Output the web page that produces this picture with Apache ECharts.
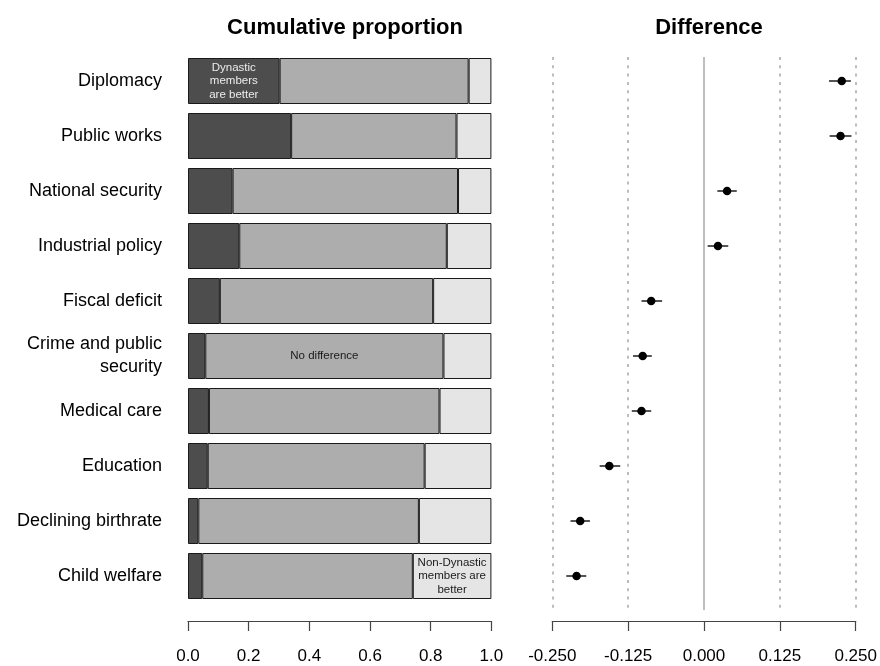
<!DOCTYPE html>
<html>
<head>
<meta charset="utf-8">
<script src="https://cdn.jsdelivr.net/npm/echarts@6/dist/echarts.min.js"></script>
<style>
  html, body { margin: 0; padding: 0; background: #fff; }
  #chart { width: 880px; height: 666px; }
</style>
</head>
<body>
<div id="chart"></div>
<script>
// Policy areas, top to bottom
const categories = [
  'Diplomacy', 'Public works', 'National security', 'Industrial policy',
  'Fiscal deficit', 'Crime and public security', 'Medical care',
  'Education', 'Declining birthrate', 'Child welfare'
];

// Shares of respondents per answer (each row sums to 1)
const dynasticBetter    = [0.302, 0.340, 0.147, 0.169, 0.105, 0.057, 0.069, 0.065, 0.034, 0.047];
const noDifference      = [0.623, 0.545, 0.743, 0.684, 0.703, 0.785, 0.760, 0.715, 0.727, 0.694];
const nonDynasticBetter = [0.075, 0.115, 0.110, 0.147, 0.192, 0.158, 0.171, 0.220, 0.239, 0.259];

// Estimated difference with confidence interval
const difference = [0.227, 0.225, 0.038, 0.023, -0.087, -0.101, -0.103, -0.156, -0.204, -0.210];
const ciLower    = [0.206, 0.207, 0.022, 0.006, -0.103, -0.117, -0.119, -0.172, -0.220, -0.227];
const ciUpper    = [0.242, 0.243, 0.054, 0.040, -0.069, -0.086, -0.087, -0.138, -0.188, -0.194];

// Axis ticks
const proportionTicks = [0, 0.2, 0.4, 0.6, 0.8, 1.0];
const differenceTicks = [-0.25, -0.125, 0, 0.125, 0.25];

// Segment annotations: [series, row, text]
const segmentNotes = [
  ['dyn', 0, 'Dynastic\nmembers\nare better'],
  ['none', 5, 'No difference'],
  ['non', 9, 'Non-Dynastic\nmembers are\nbetter']
];

const FONT = '"Liberation Sans", Arial, Helvetica, sans-serif';
const ROW = 55;            // pixel pitch of a row
const RIGHT_TOP = 57;      // top of the difference panel
const RIGHT_H = 553;       // height of the difference panel
const FIRST_CENTER = 81;   // centre of first row

const yMin = -(FIRST_CENTER - RIGHT_TOP) / ROW;
const yMax = yMin + RIGHT_H / ROW;

function noteFor(key, idx) {
  const n = segmentNotes.find(s => s[0] === key && s[1] === idx);
  return n ? n[2] : null;
}

function segData(values, key, color) {
  return values.map((v, i) => {
    const txt = noteFor(key, i);
    if (!txt) return v;
    return {
      value: v,
      label: {
        show: true, position: 'inside', formatter: txt,
        color: color, fontSize: 11.5, lineHeight: 13.5, fontFamily: FONT
      }
    };
  });
}

const segStyle = (c) => ({ color: c, borderColor: '#1a1a1a', borderWidth: 1 });

const chart = echarts.init(document.getElementById('chart'), null, { renderer: 'canvas' });

chart.setOption({
  animation: false,
  backgroundColor: '#fff',
  title: [
    { text: 'Cumulative proportion', left: 340, top: 12, textAlign: 'center',
      textStyle: { fontFamily: FONT, fontSize: 22, fontWeight: 'bold', color: '#000' } },
    { text: 'Difference', left: 704, top: 12, textAlign: 'center',
      textStyle: { fontFamily: FONT, fontSize: 22, fontWeight: 'bold', color: '#000' } }
  ],
  grid: [
    { left: 188, width: 303.4, top: 53.5, height: 550, containLabel: false },
    { left: 552.3, width: 303.4, top: RIGHT_TOP, height: RIGHT_H, containLabel: false }
  ],
  xAxis: [
    {
      gridIndex: 0, type: 'value', min: 0, max: 1, interval: 0.2, offset: 17.5,
      axisLine: { show: true, onZero: false, lineStyle: { color: '#444', width: 1.2 } },
      axisTick: { show: true, length: 10, lineStyle: { color: '#444', width: 1.2 } },
      axisLabel: { margin: 27, fontFamily: FONT, fontSize: 17, color: '#000',
        formatter: v => proportionTicks.some(t => Math.abs(t - v) < 1e-9) ? v.toFixed(1) : '' },
      splitLine: { show: false }
    },
    {
      gridIndex: 1, type: 'value', min: -0.25, max: 0.25, interval: 0.125, offset: 11,
      axisLine: { show: true, onZero: false, lineStyle: { color: '#444', width: 1.2 } },
      axisTick: { show: true, length: 10, lineStyle: { color: '#444', width: 1.2 } },
      axisLabel: { margin: 27, fontFamily: FONT, fontSize: 17, color: '#000',
        formatter: v => differenceTicks.some(t => Math.abs(t - v) < 1e-9) ? v.toFixed(3) : '' },
      splitLine: { show: true, lineStyle: { color: '#a8a8a8', width: 1.5, type: [3, 5.3] } }
    }
  ],
  yAxis: [
    {
      gridIndex: 0, type: 'category', data: categories, inverse: true,
      axisLine: { show: false }, axisTick: { show: false },
      axisLabel: {
        margin: 26, fontFamily: FONT, fontSize: 18, color: '#000', lineHeight: 23,
        formatter: v => v === 'Crime and public security' ? 'Crime and public\nsecurity' : v
      }
    },
    {
      gridIndex: 1, type: 'value', inverse: true, min: yMin, max: yMax, show: false
    }
  ],
  series: [
    {
      name: 'Dynastic members are better', type: 'bar', stack: 'share',
      xAxisIndex: 0, yAxisIndex: 0, barWidth: 46,
      itemStyle: segStyle('#4d4d4d'),
      data: segData(dynasticBetter, 'dyn', '#ececec')
    },
    {
      name: 'No difference', type: 'bar', stack: 'share',
      xAxisIndex: 0, yAxisIndex: 0, barWidth: 46,
      itemStyle: segStyle('#adadad'),
      data: segData(noDifference, 'none', '#1a1a1a')
    },
    {
      name: 'Non-Dynastic members are better', type: 'bar', stack: 'share',
      xAxisIndex: 0, yAxisIndex: 0, barWidth: 46,
      itemStyle: segStyle('#e5e5e5'),
      data: segData(nonDynasticBetter, 'non', '#1a1a1a')
    },
    {
      // zero reference line
      type: 'line', xAxisIndex: 1, yAxisIndex: 1, data: [], silent: true,
      markLine: {
        symbol: 'none', silent: true, label: { show: false },
        lineStyle: { color: '#bebebe', width: 2, type: 'solid' },
        data: [{ xAxis: 0 }]
      }
    },
    {
      name: 'CI', type: 'custom', xAxisIndex: 1, yAxisIndex: 1,
      data: categories.map((c, i) => [ciLower[i], ciUpper[i], i]),
      renderItem: (params, api) => {
        const a = api.coord([api.value(0), api.value(2)]);
        const b = api.coord([api.value(1), api.value(2)]);
        return {
          type: 'line',
          shape: { x1: a[0], y1: a[1], x2: b[0], y2: b[1] },
          style: { stroke: '#555', lineWidth: 2 }
        };
      },
      z: 3
    },
    {
      name: 'Difference', type: 'scatter', xAxisIndex: 1, yAxisIndex: 1,
      symbol: 'circle', symbolSize: 8.5,
      itemStyle: { color: '#000', opacity: 1 },
      data: categories.map((c, i) => [difference[i], i]),
      z: 4
    }
  ]
});
</script>
</body>
</html>
